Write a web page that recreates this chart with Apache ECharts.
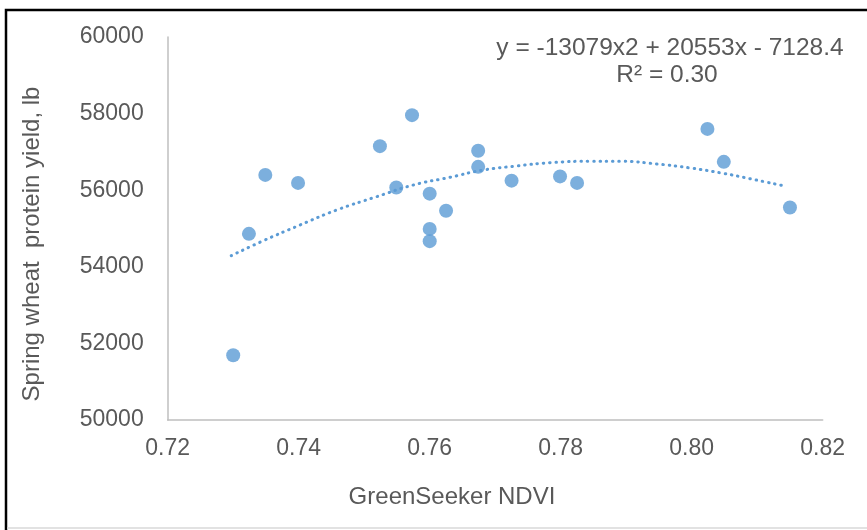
<!DOCTYPE html>
<html>
<head>
<meta charset="utf-8">
<script src="https://cdn.jsdelivr.net/npm/echarts@6/dist/echarts.min.js"></script>
<style>
html,body{margin:0;padding:0;background:#fff;}
#chart{width:867px;height:530px;}
</style>
</head>
<body>
<div id="chart"></div>
<script>
// Observed points: GreenSeeker NDVI (x) vs Spring wheat protein yield, lb (y)
const ndvi = [0.730, 0.7324, 0.7349, 0.7399, 0.7524, 0.7573, 0.7549, 0.7600, 0.7625, 0.7600, 0.7600, 0.7674, 0.7674, 0.7725, 0.7799, 0.7825, 0.8024, 0.8049, 0.8150];
const proteinYield = [51690, 54860, 56400, 56190, 57150, 57960, 56070, 55910, 55465, 54990, 54670, 57030, 56610, 56250, 56360, 56190, 57600, 56740, 55550];

// Polynomial trendline
const trendX = [0.7297, 0.7346, 0.7402, 0.7458, 0.7519, 0.7575, 0.7631, 0.7682, 0.7733, 0.7784, 0.7845, 0.7891, 0.7947, 0.7998, 0.8048, 0.8089, 0.8144];
const trendY = [54290, 54681, 55091, 55483, 55830, 56136, 56337, 56527, 56632, 56718, 56755, 56755, 56684, 56580, 56441, 56300, 56102];

const xTicks = [0.72, 0.74, 0.76, 0.78, 0.80, 0.82];
const yTicks = [50000, 52000, 54000, 56000, 58000, 60000];

const equationText = 'y = -13079x2 + 20553x - 7128.4';
const r2Text = 'R² = 0.30';
const xTitle = 'GreenSeeker NDVI';
const yTitle = 'Spring wheat  protein yield, lb';

const FONT = 'Liberation Sans, Arial, sans-serif';
const TXT = '#595959';
const BLUE = '#5B9BD5';

const chart = echarts.init(document.getElementById('chart'), null, {renderer: 'canvas'});
chart.setOption({
  animation: false,
  backgroundColor: '#ffffff',
  grid: {left: 167.7, right: 44.3, top: 37, bottom: 110, containLabel: false},
  xAxis: {
    type: 'value',
    min: xTicks[0], max: xTicks[xTicks.length - 1], interval: 0.02,
    axisLine: {show: true, lineStyle: {color: '#BFBFBF', width: 1.5}},
    axisTick: {show: false},
    splitLine: {show: false},
    axisLabel: {color: TXT, fontFamily: FONT, fontSize: 23, margin: 17,
      formatter: v => v.toFixed(2)}
  },
  yAxis: {
    type: 'value',
    min: yTicks[0], max: yTicks[yTicks.length - 1], interval: 2000,
    axisLine: {show: true, lineStyle: {color: '#BFBFBF', width: 1.5}},
    axisTick: {show: false},
    splitLine: {show: false},
    axisLabel: {color: TXT, fontFamily: FONT, fontSize: 23, margin: 24,
      formatter: v => String(v)}
  },
  series: [
    {
      type: 'scatter',
      data: ndvi.map((x, i) => [x, proteinYield[i]]),
      symbol: 'circle',
      symbolSize: 14,
      itemStyle: {color: BLUE},
      z: 2
    },
    {
      type: 'line',
      data: trendX.map((x, i) => [x, trendY[i]]),
      smooth: true,
      showSymbol: false,
      lineStyle: {color: BLUE, width: 3, type: [0.5, 5.8], cap: 'round'},
      z: 3
    }
  ],
  graphic: [
    {type: 'rect', shape: {x: 6, y: 10, width: 920, height: 600},
      style: {fill: 'none', stroke: '#000', lineWidth: 2.5}, silent: true},
    {type: 'line', shape: {x1: 7, y1: 528, x2: 867, y2: 528},
      style: {stroke: '#D9D9D9', lineWidth: 1.5}, silent: true},
    {type: 'text', x: 670, y: 48,
      style: {text: equationText, fill: TXT, font: '24.5px ' + FONT, textAlign: 'center', textVerticalAlign: 'middle'}},
    {type: 'text', x: 667, y: 75,
      style: {text: r2Text, fill: TXT, font: '24.5px ' + FONT, textAlign: 'center', textVerticalAlign: 'middle'}},
    {type: 'text', x: 452, y: 497,
      style: {text: xTitle, fill: TXT, font: '24px ' + FONT, textAlign: 'center', textVerticalAlign: 'middle'}},
    {type: 'text', x: 32, y: 244, rotation: Math.PI / 2,
      style: {text: yTitle, fill: TXT, font: '24px ' + FONT, textAlign: 'center', textVerticalAlign: 'middle'}}
  ]
});
</script>
</body>
</html>
